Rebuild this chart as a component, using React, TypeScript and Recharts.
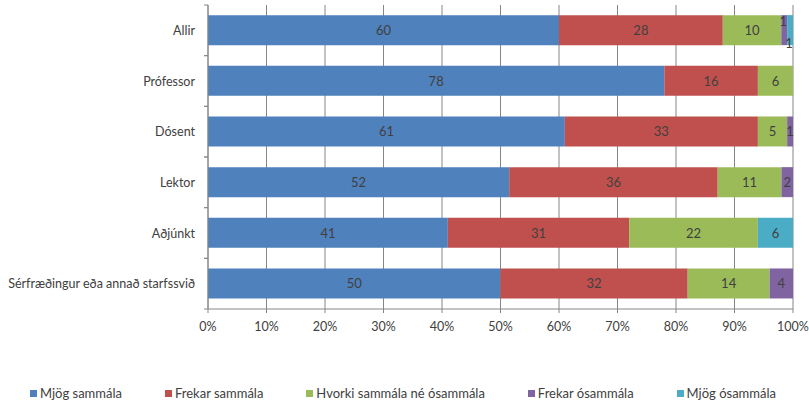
import React from "react";
import { BarChart, Bar, XAxis, YAxis, CartesianGrid, LabelList } from "recharts";

const CATEGORIES = ["Allir", "Prófessor", "Dósent", "Lektor", "Aðjúnkt", "Sérfræðingur eða annað starfssvið"];

const MJOG_SAMMALA = [60, 78, 61, 52, 41, 50];
const FREKAR_SAMMALA = [28, 16, 33, 36, 31, 32];
const HVORKI = [10, 6, 5, 11, 22, 14];
const FREKAR_OSAMMALA = [1, 0, 1, 2, 0, 4];
const MJOG_OSAMMALA = [1, 0, 0, 0, 6, 0];

const X_TICKS = [0, 0.1, 0.2, 0.3, 0.4, 0.5, 0.6, 0.7, 0.8, 0.9, 1];

const SERIES = [
  { key: "mjogSammala", label: "Mjög sammála", color: "#4F81BD", values: MJOG_SAMMALA },
  { key: "frekarSammala", label: "Frekar sammála", color: "#C0504D", values: FREKAR_SAMMALA },
  { key: "hvorki", label: "Hvorki sammála né ósammála", color: "#9BBB59", values: HVORKI },
  { key: "frekarOsammala", label: "Frekar ósammála", color: "#8064A2", values: FREKAR_OSAMMALA },
  { key: "mjogOsammala", label: "Mjög ósammála", color: "#4BACC6", values: MJOG_OSAMMALA },
];

const data = CATEGORIES.map((name, i) => {
  const row: Record<string, any> = { name };
  SERIES.forEach(s => { row[s.key] = s.values[i]; });
  return row;
});

const W = 809;
const H = 402;
const MARGIN = { top: 5, right: 16, bottom: 63, left: 8 };
const X_AXIS_H = 30;
const AXIS_X = 208;
const BAND = (H - MARGIN.top - MARGIN.bottom - X_AXIS_H) / CATEGORIES.length;
const FONT = "Lato, 'Open Sans', sans-serif";
const AXIS_COLOR = "#868686";
const TEXT_COLOR = "#404040";

// category label plus Excel-style tick marks on the band edges
function CategoryTick(props: any) {
  const { y, payload } = props;
  return (
    <g>
      <line x1={AXIS_X - 4} x2={AXIS_X} y1={y - BAND / 2} y2={y - BAND / 2} stroke={AXIS_COLOR} />
      <line x1={AXIS_X - 4} x2={AXIS_X} y1={y + BAND / 2} y2={y + BAND / 2} stroke={AXIS_COLOR} />
      <text x={AXIS_X - 13} y={y} textAnchor="end" dominantBaseline="central"
        fontSize={12.5} fontFamily={FONT} fill={TEXT_COLOR}>
        {payload.value}
      </text>
    </g>
  );
}

// value label centred in the segment; tiny segments in the first row are staggered
function segmentLabel(seriesKey: string) {
  return (props: any) => {
    const { x, y, width, height, value, index } = props;
    if (!value) return null;
    let dx = 0;
    let dy = 0;
    if (index === 0 && seriesKey === "frekarOsammala") { dy = -9; dx = -1; }
    if (index === 0 && seriesKey === "mjogOsammala") { dy = 13; dx = -1; }
    return (
      <text x={x + width / 2 + dx} y={y + height / 2 + dy} textAnchor="middle" dominantBaseline="central"
        fontSize={13} fontFamily={FONT} fill={TEXT_COLOR}>
        {value}
      </text>
    );
  };
}

export default function App() {
  return (
    <div style={{ position: "absolute", left: 0, top: 0, width: W, height: H, background: "#fff" }}>
      <BarChart
        width={W}
        height={H}
        data={data}
        layout="vertical"
        stackOffset="expand"
        barCategoryGap="20%"
        margin={MARGIN}
      >
        <CartesianGrid horizontal={false} stroke={AXIS_COLOR} strokeWidth={1} />
        <XAxis
          type="number"
          domain={[0, 1]}
          ticks={X_TICKS}
          tickFormatter={v => `${Math.round(v * 100)}%`}
          stroke={AXIS_COLOR}
          tickSize={4}
          tickMargin={9}
          height={X_AXIS_H}
          tick={{ fill: TEXT_COLOR, fontSize: 12.5, fontFamily: FONT }}
        />
        <YAxis
          type="category"
          dataKey="name"
          width={200}
          stroke={AXIS_COLOR}
          tickLine={false}
          tick={<CategoryTick />}
        />
        {SERIES.map(s => (
          <Bar key={s.key} dataKey={s.key} stackId="a" fill={s.color} isAnimationActive={false}>
            <LabelList dataKey={s.key} content={segmentLabel(s.key)} />
          </Bar>
        ))}
      </BarChart>

      {/* legend row, spread evenly between the outer items */}
      <div style={{
        position: "absolute", left: 30, top: 385, width: 746, display: "flex", justifyContent: "space-between",
        fontFamily: FONT, fontSize: 13, color: TEXT_COLOR, whiteSpace: "nowrap",
      }}>
        {SERIES.map(s => (
          <div key={s.key} style={{ display: "flex", alignItems: "center", gap: 3 }}>
            <span style={{ width: 7, height: 7, background: s.color, display: "inline-block" }} />
            <span>{s.label}</span>
          </div>
        ))}
      </div>
    </div>
  );
}
